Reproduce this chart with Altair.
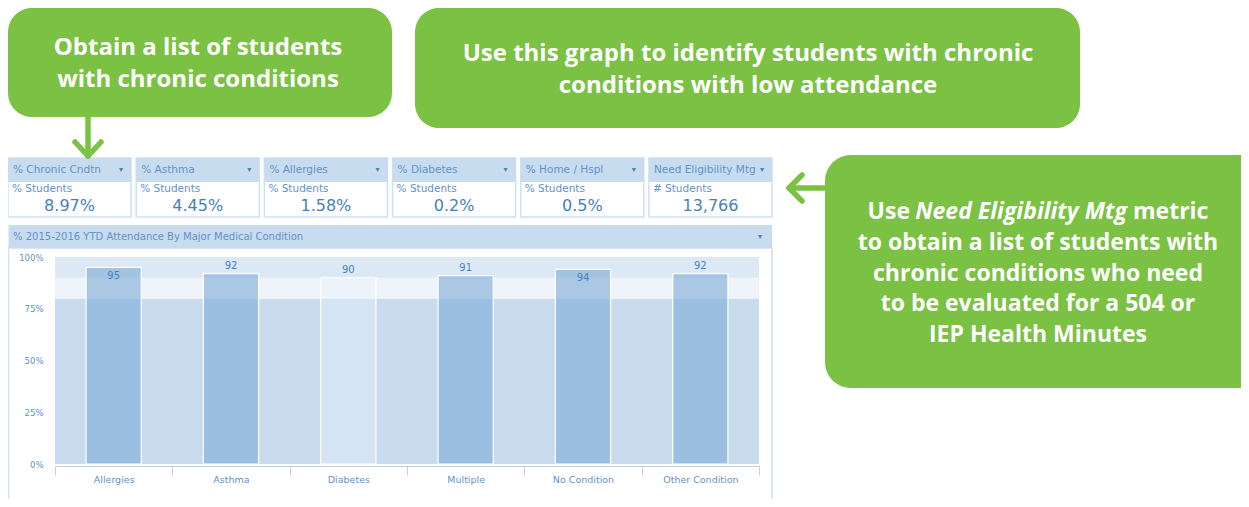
import altair as alt
import pandas as pd

# ---------------- data ----------------
categories = ["Allergies", "Asthma", "Diabetes", "Multiple", "No Condition", "Other Condition"]
attendance = [95, 92, 90, 91, 94, 92]
y_ticks = [0, 25, 50, 75, 100]
zone_low = [0, 80, 90]
zone_high = [80, 90, 100]
zone_names = ["below", "watch", "target"]

kpi_titles = ["% Chronic Cndtn", "% Asthma", "% Allergies", "% Diabetes", "% Home / Hspl", "Need Eligibility Mtg"]
kpi_units = ["% Students", "% Students", "% Students", "% Students", "% Students", "# Students"]
kpi_values = ["8.97%", "4.45%", "1.58%", "0.2%", "0.5%", "13,766"]

panel_title = "% 2015-2016 YTD Attendance By Major Medical Condition"
callout_1 = ["Obtain a list of students", "with chronic conditions"]
callout_2 = ["Use this graph to identify students with chronic", "conditions with low attendance"]
callout_3_first = ["Use", "Need Eligibility Mtg", "metric"]
callout_3_rest = ["to obtain a list of students with", "chronic conditions who need",
                  "to be evaluated for a 504 or", "IEP Health Minutes"]

# ---------------- styles ----------------
GREEN = "#7bc143"
HEAD = "#c8dcf0"
BORDER = "#cfe0f1"
TXT = "#5f93cb"
VAL = "#4581c2"
UIFONT = "DejaVu Sans"
CFONT = "Open Sans"
CSIZE = 24
CSIZE3 = 23

one = pd.DataFrame({"k": [0]})


def box(x, x2, y, y2, fill, stroke=None, r=0, sw=1.0):
    kw = dict(fill=fill, cornerRadius=r)
    if stroke is not None:
        kw.update(stroke=stroke, strokeWidth=sw)
    else:
        kw.update(strokeWidth=0)
    return alt.Chart(one).mark_rect(**kw).encode(
        x=alt.value(x), x2=alt.value(x2), y=alt.value(y), y2=alt.value(y2))


def seg(x, y, x2, y2, w=5.5, cap="round"):
    return alt.Chart(one).mark_rule(color=GREEN, strokeWidth=w, strokeCap=cap).encode(
        x=alt.value(x), y=alt.value(y), x2=alt.value(x2), y2=alt.value(y2))


def label(txt, x, y, size, color, font, weight="normal", align="center", style="normal"):
    return alt.Chart(one).mark_text(
        font=font, fontSize=size, fontWeight=weight, fontStyle=style,
        color=color, align=align, baseline="middle").encode(
        x=alt.value(x), y=alt.value(y), text=alt.value(txt))


layers = []

# callout boxes
layers.append(box(0, 384, 0, 109, GREEN, r=24))
layers.append(box(407, 1072, 0, 120, GREEN, r=24))
layers.append(box(817, 1262, 147, 380, GREEN, r=26))

# dashboard panel
layers.append(box(0.5, 764, 240, 495, "white", stroke=BORDER, sw=1.5))
layers.append(box(0.5, 764, 217, 240, HEAD))
layers.append(label(panel_title, 5, 229, 10, TXT, UIFONT, align="left"))
layers.append(label("\u25BE", 752, 229, 8, VAL, UIFONT))

# ---------------- KPI tiles ----------------
kpi = pd.DataFrame({"title": kpi_titles, "unit": kpi_units, "value": kpi_values})
tile_scale = alt.Scale(type="band", domain=kpi_titles, range=[0, 764], paddingInner=0.04, paddingOuter=0)


def tx(bp=None):
    if bp is None:
        return alt.X("title:N", scale=tile_scale, axis=None, sort=kpi_titles)
    return alt.X("title:N", scale=tile_scale, axis=None, sort=kpi_titles, bandPosition=bp)


tile_body = alt.Chart(kpi).mark_rect(fill="white", stroke=BORDER, strokeWidth=1.5).encode(
    x=tx(), y=alt.value(150), y2=alt.value(209))
tile_head = alt.Chart(kpi).mark_rect(fill=HEAD, strokeWidth=0).encode(
    x=tx(), y=alt.value(150), y2=alt.value(174))
tile_title = alt.Chart(kpi).mark_text(align="left", dx=5, font=UIFONT, fontSize=10.5, color=TXT,
                                      baseline="middle").encode(x=tx(0), y=alt.value(162), text="title:N")
tile_unit = alt.Chart(kpi).mark_text(align="left", dx=4, font=UIFONT, fontSize=10.5, color=TXT,
                                     baseline="middle").encode(x=tx(0), y=alt.value(181), text="unit:N")
tile_value = alt.Chart(kpi).mark_text(align="center", font=UIFONT, fontSize=16, color=VAL,
                                      baseline="middle").encode(x=tx(0.5), y=alt.value(198), text="value:N")
tile_dot = alt.Chart(kpi).mark_text(align="center", dx=-10, font=UIFONT, fontSize=8, color=VAL,
                                    baseline="middle").encode(x=tx(1), y=alt.value(162), text=alt.value("\u25BE"))
tiles = alt.layer(tile_body, tile_head, tile_title, tile_unit, tile_value, tile_dot)
layers.append(tiles)

# ---------------- main bar chart ----------------
df = pd.DataFrame({"condition": categories, "attendance": attendance})
zones = pd.DataFrame({"lo": zone_low, "hi": zone_high, "zone": zone_names})

xs = alt.Scale(type="band", domain=categories, range=[47, 751], paddingInner=0, paddingOuter=0)
ys = alt.Scale(domain=[0, 100], range=[456, 249], nice=False, zero=True)

x_axis = alt.Axis(title=None, orient="bottom", offset=-33, tickBand="extent", zindex=2,
                  domainColor="#bcd2ea", tickColor="#bcd2ea", tickSize=9, labelPadding=-1,
                  labelFont=UIFONT, labelFontSize=9.5, labelColor=TXT, labelAngle=0, grid=False)
y_axis = alt.Axis(title=None, orient="left", offset=-47, domain=False, ticks=False, grid=False, zindex=2,
                  values=y_ticks, labelExpr="datum.value + '%'", labelPadding=12,
                  labelFont=UIFONT, labelFontSize=8.5, labelColor=TXT)

X = alt.X("condition:N", scale=xs, sort=categories, axis=x_axis)

zone_layer = alt.Chart(zones).mark_rect(strokeWidth=0).encode(
    x=alt.value(47), x2=alt.value(751),
    y=alt.Y("lo:Q", scale=ys, axis=y_axis), y2="hi:Q",
    color=alt.Color("zone:N", scale=alt.Scale(domain=zone_names, range=["#c9dcee", "#eef4fa", "#dce8f4"]),
                    legend=None))

is_diab = "datum.condition === 'Diabetes'"
bars = alt.Chart(df).mark_bar(stroke="white", strokeWidth=1.2,
                              width=alt.RelativeBandSize(band=0.47)).encode(
    x=X,
    y=alt.Y("attendance:Q", scale=ys, axis=y_axis),
    fill=alt.condition(is_diab, alt.value("#eaf1f9"), alt.value("#7fadd6")),
    fillOpacity=alt.condition(is_diab, alt.value(0.35), alt.value(0.62)),
)

lab_in = alt.Chart(df).transform_filter("datum.attendance >= 94").mark_text(
    dy=9, font=UIFONT, fontSize=10, color=VAL, baseline="middle").encode(
    x=X, y=alt.Y("attendance:Q", scale=ys, axis=y_axis), text="attendance:Q")
lab_out = alt.Chart(df).transform_filter("datum.attendance < 94").mark_text(
    dy=-8, font=UIFONT, fontSize=10, color=VAL, baseline="middle").encode(
    x=X, y=alt.Y("attendance:Q", scale=ys, axis=y_axis), text="attendance:Q")

main = alt.layer(zone_layer, bars, lab_in, lab_out)
layers.append(main)

# ---------------- callout texts ----------------
for i, line in enumerate(callout_1):
    layers.append(label(line, 190, 40 + i * 32, CSIZE, "white", CFONT, weight="bold"))
for i, line in enumerate(callout_2):
    layers.append(label(line, 740, 46 + i * 32, CSIZE, "white", CFONT, weight="bold"))
layers.append(label(callout_3_first[0], 902, 204, CSIZE3, "white", CFONT, weight="bold", align="right"))
layers.append(label(callout_3_first[1], 1013, 204, CSIZE3, "white", CFONT, weight="bold", style="italic"))
layers.append(label(callout_3_first[2], 1125, 204, CSIZE3, "white", CFONT, weight="bold", align="left"))
for i, line in enumerate(callout_3_rest):
    layers.append(label(line, 1030, 235 + i * 30.5, CSIZE3, "white", CFONT, weight="bold"))

# arrows
layers.append(seg(80, 109, 80, 146, cap="butt"))
layers.append(seg(67, 134, 80, 148))
layers.append(seg(80, 148, 93, 134))
layers.append(seg(783, 180, 817, 180, cap="butt"))
layers.append(seg(794, 167, 781, 180))
layers.append(seg(781, 180, 794, 193))

chart = alt.layer(*layers).resolve_scale(x="independent", y="independent").properties(
    width=1233, height=491, padding=0, autosize=alt.AutoSizeParams(type="none"),
    background="white",
).configure_view(strokeWidth=0)

chart.save("out.html", embed_options={"renderer": "svg", "actions": False})
